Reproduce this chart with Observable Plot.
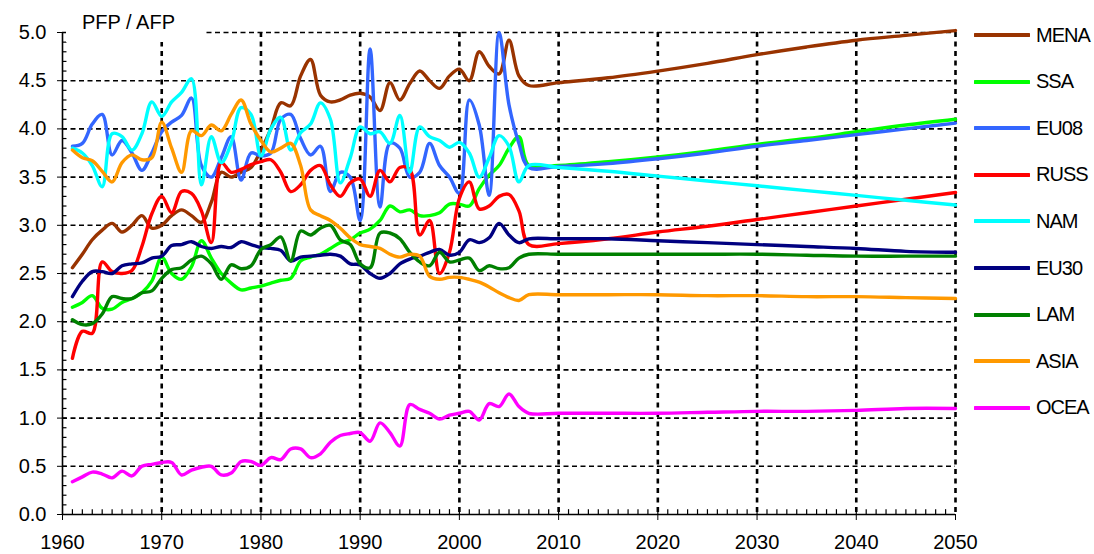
<!DOCTYPE html>
<html><head><meta charset="utf-8">
<script src="https://cdn.jsdelivr.net/npm/d3@7"></script>
<script src="https://cdn.jsdelivr.net/npm/@observablehq/plot@0.6"></script>
<style>
body{margin:0;background:#fff;}
#wrap{position:relative;width:1094px;height:554px;font-family:"Liberation Sans",Arial,sans-serif;overflow:hidden;}
#legend{position:absolute;left:974px;top:0;}
.item{position:absolute;left:0;display:flex;align-items:center;height:24px;white-space:nowrap;}
.item svg{display:block}
.item span{font-size:20px;letter-spacing:-1px;margin-left:6px;color:#000;}
#ytitle{position:absolute;left:66px;top:6px;width:138px;height:36px;background:#fff;}
#ytitle span{position:absolute;left:16px;top:4px;font-size:20px;line-height:24px;color:#000;white-space:nowrap;}
</style></head><body><div id="wrap"><div id="ytitle"><span></span></div><div id="legend"></div></div>
<script>
// ---- data ----
const names = ["MENA","SSA","EU08","RUSS","NAM","EU30","LAM","ASIA","OCEA"];
const colors = ["#993300","#00FF00","#3366FF","#FF0000","#00FFFF","#000080","#008000","#FF9900","#FF00FF"];
const years = d3.range(1961, 2008);            // observed 1961-2007
const projYears = [2010,2015,2020,2025,2030,2035,2040,2045,2050];

const mena = [2.56,2.7,2.85,2.95,3.02,2.93,3.0,3.1,2.97,3.0, 3.1,3.16,3.1,3.03,3.24,3.55,3.5,3.55,3.6,3.78, 4.0,4.27,4.24,4.55,4.72,4.35,4.28,4.3,4.35,4.37, 4.33,4.19,4.48,4.3,4.47,4.6,4.5,4.42,4.55,4.62, 4.5,4.8,4.65,4.57,4.92,4.55,4.45];
const ssa = [2.15,2.2,2.27,2.14,2.13,2.2,2.24,2.3,2.42,2.67, 2.5,2.44,2.57,2.84,2.66,2.5,2.4,2.33,2.35,2.37, 2.4,2.43,2.45,2.63,2.67,2.7,2.76,2.82,2.85,2.92, 2.96,3.05,3.2,3.14,3.16,3.1,3.1,3.13,3.22,3.22, 3.2,3.38,3.52,3.62,3.8,3.92,3.62];
const eu08 = [3.82,3.85,4.05,4.15,3.73,3.88,3.75,3.57,3.75,3.97, 4.07,4.14,4.32,3.62,3.5,3.7,3.92,3.47,3.75,3.72, 3.75,4.1,4.15,3.9,3.73,3.82,3.35,3.55,3.5,3.05, 4.83,3.19,3.85,3.8,3.5,3.55,3.85,3.62,3.5,3.33, 4.3,4.04,3.31,5.0,4.25,3.85,3.6];
const russ = [1.62,1.9,1.88,2.62,2.52,2.5,2.53,2.78,3.12,3.3, 3.13,3.35,3.33,3.15,2.82,3.65,3.55,3.58,3.63,3.66, 3.68,3.55,3.35,3.42,3.57,3.62,3.42,3.3,3.44,3.48, 3.3,3.57,3.45,3.6,3.58,2.9,3.05,2.5,2.72,3.28, 3.45,3.17,3.2,3.3,3.32,3.15,2.8];
const nam = [3.8,3.75,3.62,3.4,3.95,3.92,3.78,3.95,4.28,4.13, 4.28,4.38,4.52,3.42,3.92,3.65,3.85,4.22,4.15,3.72, 4.0,4.12,3.78,3.96,4.05,4.27,4.1,3.44,3.7,4.02, 3.95,3.97,3.85,4.14,3.55,4.02,3.92,3.88,3.81,3.86, 3.75,3.5,3.7,3.93,3.82,3.45,3.62];
const eu30 = [2.26,2.42,2.52,2.52,2.5,2.58,2.6,2.61,2.66,2.68, 2.79,2.8,2.83,2.78,2.76,2.78,2.77,2.83,2.8,2.77, 2.76,2.74,2.63,2.67,2.68,2.69,2.7,2.68,2.6,2.59, 2.5,2.45,2.5,2.6,2.65,2.68,2.72,2.75,2.69,2.72, 2.85,2.82,2.87,3.02,2.9,2.82,2.86];
const lam = [2.02,1.97,1.98,2.08,2.26,2.24,2.24,2.3,2.32,2.45, 2.54,2.56,2.64,2.68,2.6,2.44,2.59,2.55,2.58,2.75, 2.8,2.88,2.63,2.94,2.9,2.97,3.0,2.85,2.8,2.6, 2.56,2.92,2.92,2.86,2.72,2.62,2.58,2.72,2.62,2.64, 2.66,2.53,2.58,2.55,2.56,2.66,2.7];
const asia = [3.78,3.7,3.67,3.56,3.45,3.65,3.73,3.68,3.7,4.07, 3.8,3.55,3.98,3.93,4.04,3.98,4.15,4.3,4.05,3.88, 3.76,3.8,3.85,3.62,3.16,3.1,3.05,2.97,2.87,2.8, 2.78,2.76,2.7,2.67,2.7,2.68,2.47,2.44,2.46,2.46, 2.44,2.41,2.36,2.3,2.25,2.22,2.28];
const ocea = [0.34,0.39,0.44,0.42,0.38,0.45,0.4,0.5,0.52,0.54, 0.54,0.41,0.46,0.49,0.5,0.41,0.43,0.55,0.55,0.51, 0.59,0.57,0.68,0.68,0.59,0.63,0.75,0.82,0.84,0.85, 0.76,0.95,0.85,0.71,1.14,1.09,1.05,0.99,1.03,1.05, 1.07,0.98,1.15,1.12,1.25,1.12,1.05];

const menaProj = [4.48,4.53,4.6,4.68,4.77,4.85,4.92,4.97,5.02];
const ssaProj  = [3.62,3.66,3.71,3.77,3.84,3.9,3.97,4.04,4.1];
const eu08Proj = [3.61,3.64,3.69,3.75,3.82,3.88,3.94,4.0,4.06];
const russProj = [2.81,2.86,2.93,2.99,3.06,3.13,3.2,3.27,3.34];
const namProj  = [3.6,3.56,3.51,3.46,3.41,3.36,3.31,3.26,3.21];
const eu30Proj = [2.86,2.86,2.84,2.82,2.8,2.78,2.76,2.73,2.72];
const lamProj  = [2.7,2.7,2.7,2.7,2.7,2.69,2.68,2.68,2.68];
const asiaProj = [2.28,2.28,2.28,2.27,2.27,2.26,2.26,2.25,2.24];
const oceaProj = [1.05,1.05,1.05,1.06,1.07,1.07,1.08,1.1,1.1];

const xTicks = d3.range(1960, 2051, 10);
const yTicks = d3.range(0, 51, 5).map(d => d / 10);
const yGrid = yTicks.filter(d => d > 0);
const xGrid = xTicks.filter(d => d > 1960);
const minorY = d3.range(1, 50).map(d => d / 10);
const minorX = d3.range(1961, 2050);
const axisTitle = "PFP / AFP";

// ---- table ----
const hist = [mena, ssa, eu08, russ, nam, eu30, lam, asia, ocea];
const proj = [menaProj, ssaProj, eu08Proj, russProj, namProj, eu30Proj, lamProj, asiaProj, oceaProj];
const rows = [];
names.forEach((n, i) => {
  years.forEach((y, j) => rows.push({series: n, year: y, value: hist[i][j]}));
  projYears.forEach((y, j) => rows.push({series: n, year: y, value: proj[i][j]}));
});

const chart = Plot.plot({
  width: 1094, height: 554,
  marginLeft: 62, marginRight: 139, marginTop: 32, marginBottom: 40,
  style: {fontFamily: '"Liberation Sans", Arial, sans-serif', fontSize: "20px", color: "#000", background: "transparent", overflow: "visible"},
  x: {domain: [1960, 2050]},
  y: {domain: [0, 5]},
  color: {domain: names, range: colors},
  marks: [
    Plot.ruleY(yGrid, {stroke: "#000", strokeWidth: 1.6, strokeDasharray: "5,3.5"}),
    Plot.ruleX(xGrid, {stroke: "#000", strokeWidth: 2.6, strokeDasharray: "5,4.5"}),
    Plot.ruleY(minorY, {x1: 1960, x2: 1960.45, stroke: "#000", strokeWidth: 1.2}),
    Plot.ruleX(minorX, {y1: 0, y2: 0.05, stroke: "#000", strokeWidth: 1.2}),
    Plot.line(rows, {x: "year", y: "value", z: "series", stroke: "series", strokeWidth: 3.4, strokeLinejoin: "round", strokeLinecap: "round", curve: "catmull-rom"}),
    Plot.ruleY([0], {stroke: "#000", strokeWidth: 1.6}),
    Plot.ruleX([1960], {stroke: "#000", strokeWidth: 1.6}),
    Plot.axisX({ticks: xTicks, tickFormat: "d", tickSize: 6, tickPadding: 14, label: null, stroke: "#000"}),
    Plot.axisY({ticks: yTicks, tickFormat: ".1f", tickSize: 5, tickPadding: 11, label: null, stroke: "#000"})
  ]
});
const wrap = document.getElementById("wrap");
wrap.insertBefore(chart, wrap.firstChild);
document.querySelector("#ytitle span").textContent = axisTitle;

// ---- legend ----
const legend = document.getElementById("legend");
names.forEach((n, i) => {
  const item = document.createElement("div");
  item.className = "item";
  item.style.top = (35 + i * 46.6 - 12) + "px";
  item.innerHTML = `<svg width="56" height="6"><line x1="1" x2="55" y1="3" y2="3" stroke="${colors[i]}" stroke-width="4" stroke-linecap="round"/></svg><span>${n}</span>`;
  legend.appendChild(item);
});
</script>
</body></html>
